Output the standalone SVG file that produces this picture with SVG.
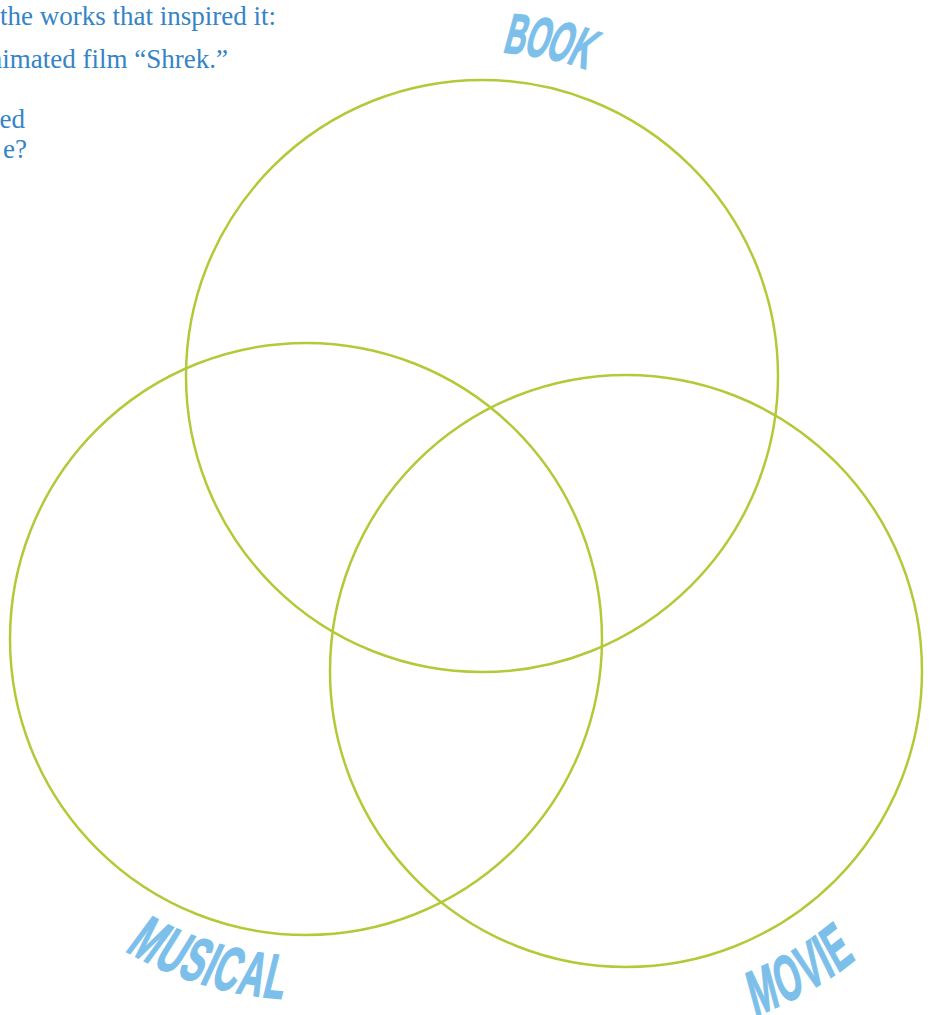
<svg xmlns="http://www.w3.org/2000/svg" width="934" height="1015" viewBox="0 0 934 1015">
<style>
.ring{fill:none;stroke:#b3ca38;stroke-width:2.5}
.body{font-family:"Liberation Serif",serif;font-size:27px;fill:#3484c6}
.lbl{font-family:"Liberation Sans",Arial,sans-serif;font-weight:bold;fill:#7bbfea;stroke:#7bbfea;stroke-width:1.4;text-anchor:middle}
.b{font-size:57px}
.m{font-size:63px}
</style>
<rect width="934" height="1015" fill="#ffffff"/>
<g id="intro-text">
<text class="body" x="0" y="25">the works that inspired it:</text>
<text class="body" x="228" y="68" text-anchor="end">nimated film “Shrek.”</text>
<text class="body" x="25" y="128" text-anchor="end">ed</text>
<text class="body" x="27" y="158" text-anchor="end">e?</text>
</g>
<g id="circle-book"><circle class="ring" cx="482" cy="376" r="296"/></g>
<g id="circle-musical"><circle class="ring" cx="306" cy="639" r="296"/></g>
<g id="circle-movie"><circle class="ring" cx="626" cy="671" r="296"/></g>
<g id="label-book" class="lbl b">
<text transform="translate(517.9,33.4) rotate(6) skewX(-9) scale(0.52,1)" y="20.5">B</text>
<text transform="translate(540.5,36.5) rotate(9.8) skewX(-9) scale(0.52,1)" y="20.5">O</text>
<text transform="translate(562.9,41.1) rotate(13.6) skewX(-9) scale(0.52,1)" y="20.5">O</text>
<text transform="translate(584.9,47.3) rotate(17.4) skewX(-9) scale(0.52,1)" y="20.5">K</text>
</g>
<g id="label-musical" class="lbl m">
<text transform="translate(150.5,939.1) rotate(27.4) skewX(-9) scale(0.55,1)" y="22.5">M</text>
<text transform="translate(175,950.6) rotate(22.8) skewX(-9) scale(0.55,1)" y="22.5">U</text>
<text transform="translate(197.3,959.1) rotate(18.76) skewX(-9) scale(0.55,1)" y="22.5">S</text>
<text transform="translate(212.9,963.9) rotate(16) skewX(-9) scale(0.55,1)" y="22.5">I</text>
<text transform="translate(229.6,968.2) rotate(13.06) skewX(-9) scale(0.55,1)" y="22.5">C</text>
<text transform="translate(254.2,973) rotate(8.82) skewX(-9) scale(0.55,1)" y="22.5">A</text>
<text transform="translate(277,975.7) rotate(4.92) skewX(-9) scale(0.55,1)" y="22.5">L</text>
</g>
<g id="label-movie" class="lbl m">
<text transform="translate(762.1,989.2) rotate(-24) skewX(-9) scale(0.55,1)" y="22.5">M</text>
<text transform="translate(787.3,977.2) rotate(-28.5) skewX(-9) scale(0.55,1)" y="22.5">O</text>
<text transform="translate(809.1,964.7) rotate(-32.5) skewX(-9) scale(0.55,1)" y="22.5">V</text>
<text transform="translate(822.7,955.8) rotate(-35.2) skewX(-9) scale(0.55,1)" y="22.5">I</text>
<text transform="translate(835.9,946.3) rotate(-38) skewX(-9) scale(0.55,1)" y="22.5">E</text>
</g>
</svg>
